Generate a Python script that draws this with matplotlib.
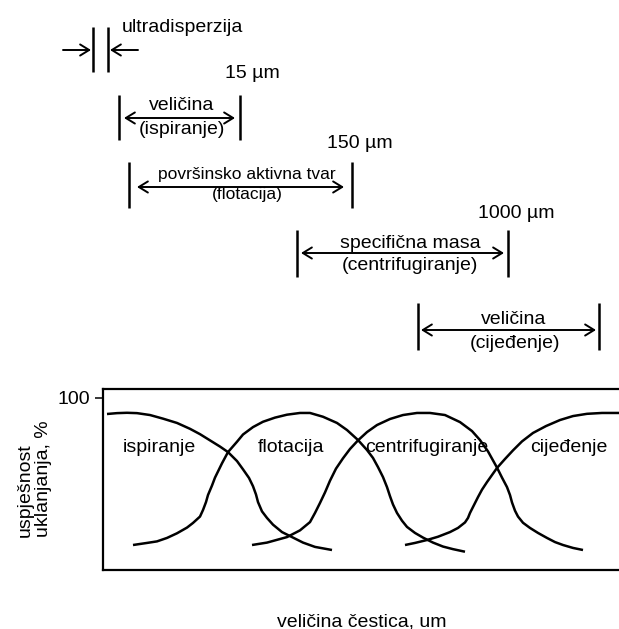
import matplotlib
matplotlib.use("Agg")
import matplotlib.pyplot as plt

plt.rcParams['font.family'] = ['Liberation Sans', 'DejaVu Sans']

# ---------------- data ----------------
methods = ["ispiranje", "flotacija", "centrifugiranje", "cijeđenje"]
range_property = ["veličina", "površinsko aktivna tvar", "specifična masa", "veličina"]
range_method = ["(ispiranje)", "(flotacija)", "(centrifugiranje)", "(cijeđenje)"]
size_marks = ["15 µm", "150 µm", "1000 µm"]
ytick_values = [100]
ytick_labels = ["100"]

ispiranje_x = [4, 14, 24, 34, 47, 60, 74, 87, 97, 107, 117, 125, 134, 140, 146, 150, 153, 155,
               159, 164, 170, 179, 189, 200, 212, 229]
ispiranje_y = [90.5, 91.0, 91.2, 91.0, 89.9, 87.8, 85.3, 81.9, 78.8, 75.2, 71.6, 68.4, 63.2, 58.4,
               53.4, 48.6, 43.8, 39.4, 34.0, 30.2, 26.3, 22.0, 19.1, 15.9, 13.4, 11.6]

flotacija_x = [30, 44, 54, 64, 74, 84, 90, 97, 100, 103, 105, 109, 112, 119, 125, 134, 140, 150,
               160, 172, 184, 197, 207, 220, 234, 244, 255, 264, 270, 275, 280, 284, 287, 290,
               294, 299, 304, 312, 320, 330, 340, 350, 362]
flotacija_y = [14.5, 15.7, 16.6, 18.6, 21.3, 24.6, 27.3, 31.0, 34.8, 39.4, 43.5, 49.0, 53.6, 61.9,
               68.4, 74.4, 78.6, 82.9, 86.0, 88.4, 90.1, 91.1, 91.1, 88.9, 85.3, 81.2, 75.4, 69.6,
               65.0, 59.7, 53.9, 48.1, 42.8, 38.0, 33.1, 28.6, 25.0, 21.5, 18.8, 15.9, 13.6, 12.1,
               10.6]

centrifugiranje_x = [149, 164, 184, 197, 207, 212, 217, 222, 227, 233, 240, 247, 255, 264, 274,
                     287, 300, 314, 327, 342, 357, 369, 377, 385, 394, 399, 404, 407, 409, 412,
                     415, 420, 427, 435, 444, 452, 460, 470, 480]
centrifugiranje_y = [14.5, 15.9, 19.1, 23.0, 27.8, 33.1, 38.9, 45.0, 51.8, 58.8, 64.8, 70.2, 75.2,
                     80.0, 84.1, 87.6, 89.9, 91.1, 91.1, 89.9, 85.8, 80.6, 75.4, 68.8, 59.4, 53.6,
                     48.1, 43.5, 39.2, 34.4, 31.0, 27.4, 24.4, 21.5, 18.6, 16.2, 14.5, 12.8, 11.6]

cijedjenje_x = [302, 312, 324, 335, 347, 355, 362, 365, 367, 371, 375, 379, 384, 389, 394, 402,
                410, 419, 430, 443, 457, 470, 484, 499, 516]
cijedjenje_y = [14.5, 15.7, 17.4, 19.3, 22.0, 24.4, 27.6, 30.2, 33.1, 37.7, 42.3, 46.6, 51.0, 55.1,
                59.2, 64.4, 69.4, 74.6, 79.5, 83.5, 87.0, 89.3, 90.6, 91.1, 91.1]

curves_x = [ispiranje_x, flotacija_x, centrifugiranje_x, cijedjenje_x]
curves_y = [ispiranje_y, flotacija_y, centrifugiranje_y, cijedjenje_y]

# ---------------- layout (pixel positions of the schematic) ----------------
W, H = 619, 629
bracket_left = [119, 129, 297, 418]
bracket_right = [240, 352, 508, 599]
bracket_top = [95, 162, 230, 303]
bracket_bottom = [140, 208, 277, 350]
arrow_y = [118, 187, 253, 330]
arrow_inset = [5, 8, 4, 3]
text1_xy = [(182, 106), (247, 175), (410, 243), (514, 320)]
text2_xy = [(182, 129), (247, 195), (410, 265), (515, 343)]
text_size = [14, 12.5, 14, 14]
mark_xy = [(225, 73), (327, 144), (478, 213)]
label_xy = [(56, 71.3), (188, 71.3), (324, 71.3), (466, 71.3)]

fig = plt.figure(figsize=(W / 100, H / 100), dpi=100)
fig.patch.set_facecolor('white')

# main chart axes
left, right, top, bottom = 103, 619, 389, 570
ax = fig.add_axes([left / W, (H - bottom) / H, (right - left) / W, (bottom - top) / H])
ax.set_xlim(0, right - left)
ax.set_ylim(0, 105)
for cx, cy in zip(curves_x, curves_y):
    ax.plot(cx, cy, color='black', lw=1.8, solid_joinstyle='round', solid_capstyle='butt')
for name, (tx, ty) in zip(methods, label_xy):
    ax.text(tx, ty, name, ha='center', va='center', fontsize=14)
ax.set_xticks([])
ax.set_yticks(ytick_values)
ax.set_yticklabels(ytick_labels, fontsize=14)
ax.tick_params(axis='y', length=6, width=1.1, pad=3, direction='out')
ax.spines['right'].set_visible(False)
for s in ['left', 'top', 'bottom']:
    ax.spines[s].set_linewidth(1.6)

# overlay axes in pixel coords
ov = fig.add_axes([0, 0, 1, 1], zorder=-1)
ov.set_xlim(0, W)
ov.set_ylim(H, 0)
ov.axis('off')

# axis labels
ov.text(25, 537, "uspješnost", rotation=90, ha='center', va='bottom', fontsize=14)
ov.text(44, 537, "uklanjanja, %", rotation=90, ha='center', va='bottom', fontsize=14)
ov.text(362, 622, "veličina čestica, um", ha='center', va='center', fontsize=14)

# ultradisperzija
ov.text(122, 27, "ultradisperzija", ha='left', va='center', fontsize=14)
ov.vlines([93, 108], 27, 72, color='black', lw=1.8)
aprops = dict(arrowstyle='->,head_length=0.65,head_width=0.4', lw=1.4, color='black',
              shrinkA=0, shrinkB=0)
ov.annotate('', xy=(91, 50), xytext=(63, 50), arrowprops=aprops)
ov.annotate('', xy=(110, 50), xytext=(138, 50), arrowprops=aprops)

for m, (mx, my) in zip(size_marks, mark_xy):
    ov.text(mx, my, m, ha='left', va='center', fontsize=14)

dprops = dict(arrowstyle='<->,head_length=0.65,head_width=0.4', lw=1.4, color='black',
              shrinkA=0, shrinkB=0)
for i in range(len(methods)):
    ov.vlines([bracket_left[i], bracket_right[i]], bracket_top[i], bracket_bottom[i],
              color='black', lw=1.8)
    ov.annotate('', xy=(bracket_right[i] - arrow_inset[i], arrow_y[i]),
                xytext=(bracket_left[i] + arrow_inset[i], arrow_y[i]), arrowprops=dprops)
    ov.text(*text1_xy[i], range_property[i], ha='center', va='center', fontsize=text_size[i])
    ov.text(*text2_xy[i], range_method[i], ha='center', va='center', fontsize=text_size[i])

fig.savefig("out.png", dpi=100, facecolor='white')
